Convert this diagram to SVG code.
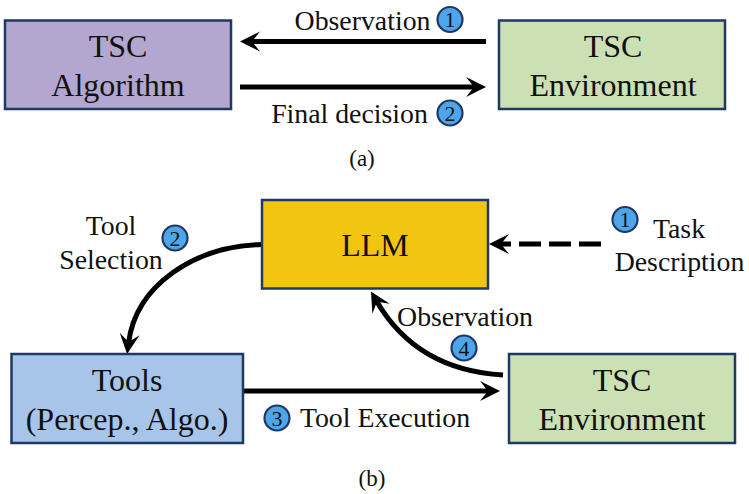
<svg xmlns="http://www.w3.org/2000/svg" width="749" height="494" viewBox="0 0 749 494">
<style>
text{font-family:"Liberation Serif","Times New Roman",serif;fill:#111;text-anchor:middle}
.b{font-size:32px}
.l{font-size:27.800px}
.c{font-size:23px}
.n{font-size:22px}
.box{stroke:#1f3864;stroke-width:2.500}
.badge{fill:#4ea6ea;stroke:#1f3864;stroke-width:2.200}
.e{fill:none;stroke:#000;stroke-width:5}
</style>
<defs>
<marker id="ah" markerUnits="userSpaceOnUse" markerWidth="24" markerHeight="24" refX="9" refY="12" orient="auto">
<path d="M0 2L20 12L0 22L8 12Z" fill="#000"/>
</marker>
</defs>
<rect width="749" height="494" fill="#fff"/>
<g id="connectors">
<path class="e" d="M486 41.500H251" marker-end="url(#ah)"/>
<path class="e" d="M240 87H475" marker-end="url(#ah)"/>
<path class="e" d="M601 244H500" stroke-dasharray="22 8" marker-end="url(#ah)"/>
<path class="e" d="M243 391H489" marker-end="url(#ah)"/>
<path class="e" d="M262 244.500C195 246 136 285 128.500 343" marker-end="url(#ah)"/>
<path class="e" d="M503 375C450 372 405 350 376.500 301" marker-end="url(#ah)"/>
</g>
<g id="tsc-algorithm"><rect class="box" x="5" y="20.500" width="226" height="88.500" fill="#b3a6cf"/><text class="b" x="118" y="57">TSC</text><text class="b" x="118" y="96">Algorithm</text></g>
<g id="tsc-environment-a"><rect class="box" x="499" y="20.500" width="226" height="88.500" fill="#cbe0b3"/><text class="b" x="613" y="57">TSC</text><text class="b" x="613" y="96">Environment</text></g>
<g id="llm"><rect class="box" x="262" y="200" width="226" height="88.500" fill="#f2c511"/><text class="b" x="375" y="256">LLM</text></g>
<g id="tools"><rect class="box" x="11.500" y="354" width="231.500" height="89" fill="#a6c5e9"/><text class="b" x="127" y="391">Tools</text><text class="b" x="127" y="430">(Percep., Algo.)</text></g>
<g id="tsc-environment-b"><rect class="box" x="509" y="354" width="226" height="89" fill="#cbe0b3"/><text class="b" x="622" y="391">TSC</text><text class="b" x="622" y="430">Environment</text></g>
<g id="labels">
<text class="l" x="362.500" y="30">Observation</text>
<text class="l" x="349.500" y="123">Final decision</text>
<text class="c" x="362" y="166">(a)</text>
<text class="l" x="111" y="235">Tool</text>
<text class="l" x="111" y="269">Selection</text>
<text class="l" x="679" y="238">Task</text>
<text class="l" x="679.500" y="271">Description</text>
<text class="l" x="465" y="326">Observation</text>
<text class="l" x="385" y="427">Tool Execution</text>
<text class="c" x="372" y="486">(b)</text>
</g>
<g id="badges">
<circle class="badge" cx="450" cy="19.500" r="12.500"/><text class="n" x="450" y="27">1</text>
<circle class="badge" cx="450" cy="113" r="12.500"/><text class="n" x="450" y="120.500">2</text>
<circle class="badge" cx="175" cy="238" r="12.500"/><text class="n" x="175" y="245.500">2</text>
<circle class="badge" cx="625" cy="219.500" r="12.500"/><text class="n" x="625" y="227">1</text>
<circle class="badge" cx="277" cy="418" r="12.500"/><text class="n" x="277" y="425.500">3</text>
<circle class="badge" cx="464" cy="348" r="12.500"/><text class="n" x="464" y="355.500">4</text>
</g>
</svg>
